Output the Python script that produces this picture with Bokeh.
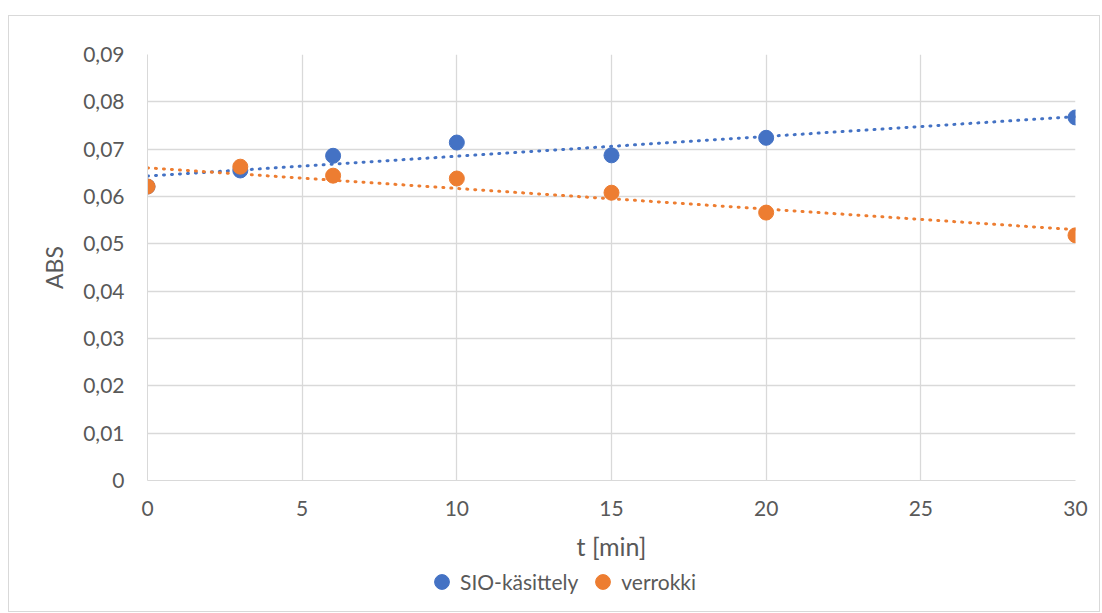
import numpy as np
from bokeh.plotting import figure
from bokeh.layouts import column
from bokeh.models import Legend, LegendItem, CustomJSTickFormatter, FixedTicker, Range1d
from bokeh.embed import file_html
from bokeh.resources import INLINE

t_min = [0, 3, 6, 10, 15, 20, 30]
sio = [0.0621, 0.0655, 0.0686, 0.0714, 0.0687, 0.0724, 0.0767]
verrokki = [0.0621, 0.0663, 0.0644, 0.0638, 0.0608, 0.0566, 0.0518]
series_names = ["SIO-käsittely", "verrokki"]
x_ticks = [0, 5, 10, 15, 20, 25, 30]
y_ticks = [0, 0.01, 0.02, 0.03, 0.04, 0.05, 0.06, 0.07, 0.08, 0.09]

BLUE = "#4472C4"
ORANGE = "#ED7D31"
GRID = "#D9D9D9"
TXT = "#595959"
FONT = "Lato"

p = figure(width=1090, height=550, output_backend="svg", toolbar_location=None,
           x_range=Range1d(0, 30), y_range=Range1d(0, 0.09),
           min_border_left=138, min_border_right=24, min_border_top=38,
           min_border_bottom=86)
p.outline_line_color = None

p.xaxis.ticker = FixedTicker(ticks=x_ticks)
p.yaxis.ticker = FixedTicker(ticks=y_ticks)
p.yaxis.formatter = CustomJSTickFormatter(code="return tick == 0 ? '0' : tick.toFixed(2).replace('.', ',');")
for ax in (p.xaxis[0], p.yaxis[0]):
    ax.axis_line_color = GRID
    ax.major_tick_line_color = None
    ax.minor_tick_line_color = None
    ax.major_label_text_font = FONT
    ax.major_label_text_font_size = "21px"
    ax.major_label_text_color = TXT
    ax.axis_label_text_font = FONT
    ax.axis_label_text_color = TXT
    ax.axis_label_text_font_style = "normal"
p.xaxis.axis_label = "t [min]"
p.yaxis.axis_label = "ABS"
p.xaxis.axis_label_text_font_size = "25px"
p.yaxis.axis_label_text_font_size = "23px"
p.xaxis.major_label_standoff = 14
p.yaxis.major_label_standoff = 17
p.xaxis.axis_label_standoff = 12
p.yaxis.axis_label_standoff = 12

p.xgrid.grid_line_color = GRID
p.ygrid.grid_line_color = GRID
p.xgrid.grid_line_width = 1.3
p.ygrid.grid_line_width = 1.3

# trendlines (linear fit)
xs = np.array(t_min, dtype=float)
for ys, col in ((sio, BLUE), (verrokki, ORANGE)):
    k, b = np.polyfit(xs, np.array(ys), 1)
    p.line([0, 30], [b, b + 30 * k], line_color=col, line_width=3,
           line_dash="1 7", line_cap="round")

r1 = p.scatter(t_min, sio, size=15, fill_color=BLUE, line_color=BLUE)
r2 = p.scatter(t_min, verrokki, size=15, fill_color=ORANGE, line_color=ORANGE)

# legend strip below the chart
p2 = figure(width=1090, height=45, output_backend="svg", toolbar_location=None,
            x_range=Range1d(0, 1), y_range=Range1d(0, 1),
            min_border=0, min_border_left=0, min_border_right=0,
            min_border_top=0, min_border_bottom=0)
p2.axis.visible = False
p2.grid.visible = False
p2.outline_line_color = None
d1 = p2.scatter([2], [2], size=15, fill_color=BLUE, line_color=BLUE)
d2 = p2.scatter([2], [2], size=15, fill_color=ORANGE, line_color=ORANGE)

legend = Legend(items=[LegendItem(label=series_names[0], renderers=[d1]),
                       LegendItem(label=series_names[1], renderers=[d2])],
                orientation="horizontal", location=(276, 11),
                label_text_font=FONT, label_text_font_size="21px",
                label_text_color=TXT, border_line_color=None,
                background_fill_alpha=0, glyph_width=37, glyph_height=37,
                label_standoff=-5, spacing=6, padding=0, margin=0)
p2.add_layout(legend, "center")

layout = column(p, p2, spacing=0)
layout.styles = {"border": "1px solid #D9D9D9", "margin-left": "8px", "margin-top": "15px"}

open("out.html", "w").write(file_html(layout, INLINE))
